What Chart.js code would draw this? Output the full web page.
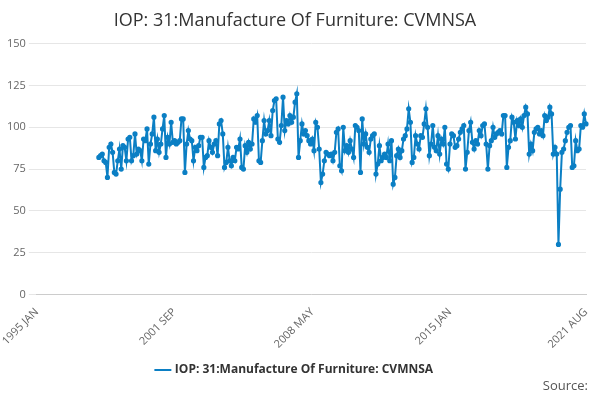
<!DOCTYPE html>
<html>
<head>
<meta charset="utf-8">
<script src="https://cdn.jsdelivr.net/npm/chart.js@4"></script>
<style>
  body { margin: 0; background: #fff; font-family: "Open Sans", sans-serif; }
  #wrap { position: relative; width: 600px; height: 400px; }
  #src { position: absolute; right: 12px; bottom: 6px; font-size: 13px; color: #555; }
</style>
</head>
<body>
<div id="wrap">
  <canvas id="myChart" width="600" height="400"></canvas>
  <div id="src">Source:</div>
</div>
<script>
const seriesName = 'IOP: 31:Manufacture Of Furniture: CVMNSA';
const monthNames = ['JAN','FEB','MAR','APR','MAY','JUN','JUL','AUG','SEP','OCT','NOV','DEC'];
const tickLabels = ['1995 JAN', '2001 SEP', '2008 MAY', '2015 JAN', '2021 AUG'];

// 1995-1997: no data
const noData = new Array(36).fill(null);
const y1998 = [82, 83, 84, 80, 79, 70, 88, 90, 85, 73, 72, 80];
const y1999 = [87, 75, 89, 88, 80, 93, 94, 80, 83, 96, 84, 87];
const y2000 = [86, 80, 93, 92, 99, 78, 90, 96, 106, 86, 93, 85];
const y2001 = [90, 99, 107, 82, 94, 90, 103, 91, 92, 90, 91, 92];
const y2002 = [105, 105, 73, 90, 98, 93, 92, 80, 88, 86, 89, 94];
const y2003 = [94, 76, 82, 83, 92, 88, 85, 90, 92, 83, 102, 104];
const y2004 = [96, 76, 79, 88, 80, 77, 82, 80, 88, 87, 93, 76];
const y2005 = [75, 89, 85, 91, 87, 90, 105, 103, 107, 80, 79, 92];
const y2006 = [104, 96, 98, 104, 95, 110, 116, 117, 93, 91, 101, 118];
const y2007 = [98, 104, 102, 107, 103, 106, 115, 120, 82, 92, 102, 96];
const y2008 = [98, 95, 92, 90, 93, 86, 103, 100, 87, 67, 72, 80];
const y2009 = [85, 84, 83, 84, 80, 85, 97, 99, 77, 74, 100, 86];
const y2010 = [89, 85, 92, 87, 82, 101, 100, 98, 73, 105, 90, 96];
const y2011 = [88, 85, 93, 95, 96, 72, 78, 89, 80, 82, 84, 82];
const y2012 = [90, 80, 92, 66, 70, 83, 87, 82, 86, 93, 95, 99];
const y2013 = [111, 103, 79, 82, 95, 90, 87, 95, 94, 102, 111, 100];
const y2014 = [83, 90, 101, 88, 86, 95, 84, 93, 90, 100, 78, 75];
const y2015 = [90, 96, 95, 88, 89, 93, 97, 99, 101, 75, 85, 98];
const y2016 = [103, 91, 87, 92, 90, 98, 95, 101, 102, 90, 75, 89];
const y2017 = [92, 100, 94, 96, 97, 98, 96, 107, 107, 76, 88, 92];
const y2018 = [106, 103, 93, 104, 101, 105, 100, 107, 112, 108, 84, 90];
const y2019 = [86, 97, 99, 100, 96, 98, 95, 107, 104, 106, 112, 108];
const y2020 = [84, 88, 84, 30, 63, 85, 87, 92, 97, 100, 101, 76];
const y2021 = [77, 92, 86, 87, 101, 100, 108, 102];

const values = [].concat(noData, y1998, y1999, y2000, y2001, y2002, y2003, y2004,
  y2005, y2006, y2007, y2008, y2009, y2010, y2011, y2012, y2013, y2014, y2015,
  y2016, y2017, y2018, y2019, y2020, y2021);

const labels = values.map((v, i) => (1995 + Math.floor(i / 12)) + ' ' + monthNames[i % 12]);

const blue = '#0b7fc4';
const ctx = document.getElementById('myChart');

new Chart(ctx, {
  type: 'line',
  data: {
    labels: labels,
    datasets: [{
      label: seriesName,
      data: values,
      borderColor: blue,
      backgroundColor: blue,
      borderWidth: 2,
      pointRadius: 1.6,
      pointHoverRadius: 3,
      tension: 0
    }]
  },
  options: {
    responsive: false,
    animation: false,
    layout: { padding: { left: 4, right: 14, top: 4, bottom: 14 } },
    plugins: {
      title: {
        display: true,
        text: seriesName,
        color: '#333',
        font: { size: 18, family: 'Open Sans', weight: 'normal' },
        padding: { top: 6, bottom: 12 }
      },
      legend: {
        position: 'bottom',
        labels: {
          color: '#333',
          font: { size: 12, family: 'Open Sans', weight: 'bold' },
          usePointStyle: true,
          pointStyle: 'line',
          boxWidth: 22
        }
      }
    },
    scales: {
      x: {
        grid: { display: false },
        border: { color: '#ccc' },
        ticks: {
          autoSkip: false,
          maxRotation: 45,
          minRotation: 45,
          color: '#666',
          font: { size: 11, family: 'Open Sans' },
          callback: function(val) {
            const l = labels[val];
            return tickLabels.includes(l) ? l : null;
          }
        }
      },
      y: {
        min: 0,
        max: 150,
        border: { display: false },
        grid: { color: '#e6e6e6' },
        ticks: { stepSize: 25, color: '#666', font: { size: 11, family: 'Open Sans' } }
      }
    }
  }
});
</script>
</body>
</html>
